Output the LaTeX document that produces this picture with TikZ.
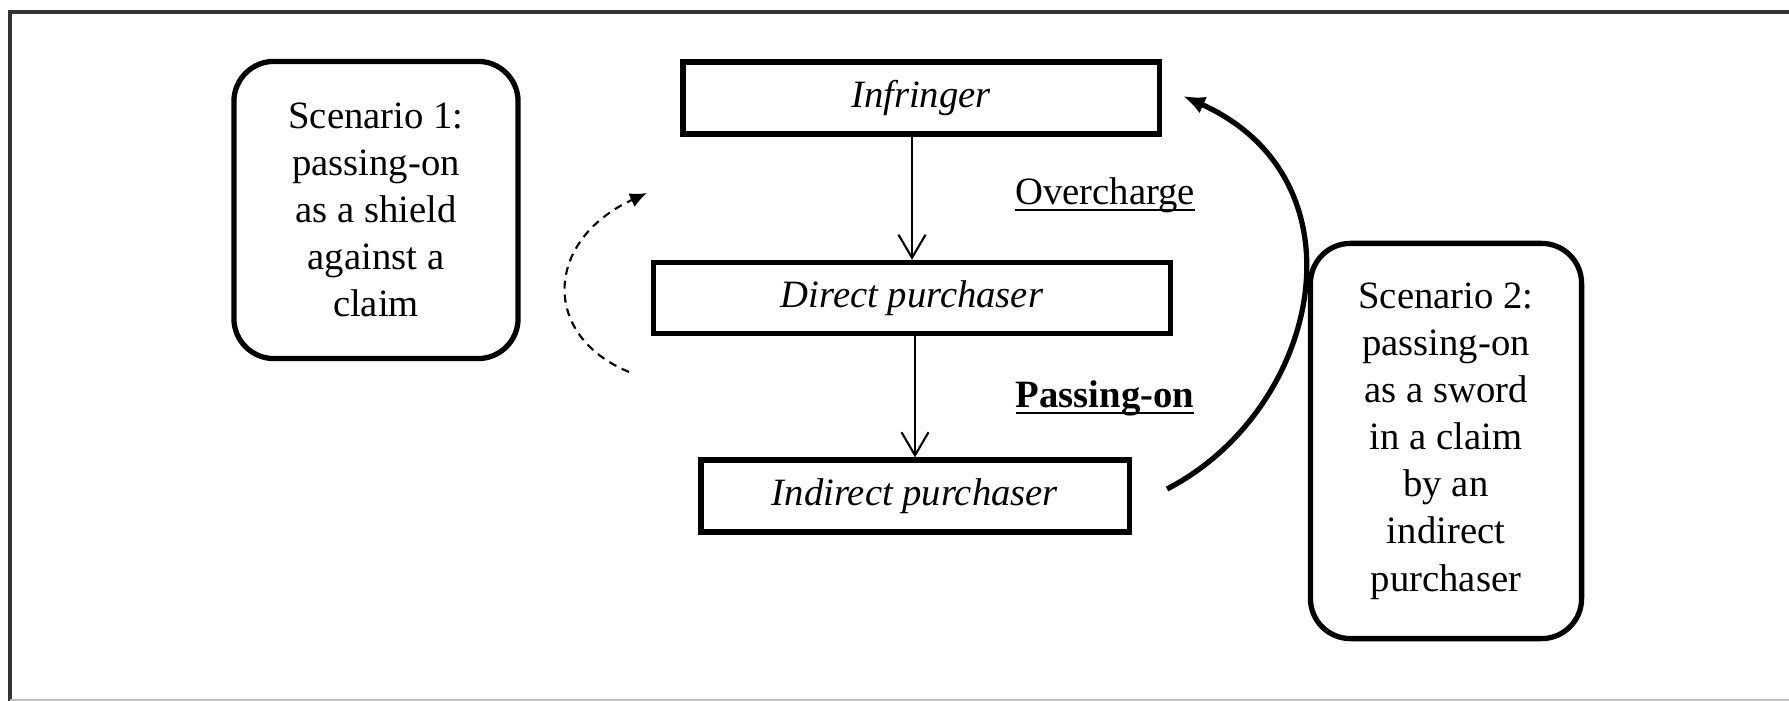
\documentclass[tikz,border=0pt]{standalone}
\usepackage{fontspec}
\setmainfont{Liberation Serif}
\usetikzlibrary{arrows.meta}

\begin{document}
\begin{tikzpicture}[x=0.01cm,y=-0.01cm,
	every node/.style={font=\fontsize{11pt}{13.4pt}\selectfont},
	party/.style={rectangle,draw,line width=1.5pt,minimum height=0.72cm},
	scenario/.style={rectangle,rounded corners=0.4cm,draw,line width=1.5pt,align=center},
	flow/.style={line width=0.6pt,-{Straight Barb[length=0.23cm,width=0.27cm]}}]
	
	\useasboundingbox (0,0) rectangle (1789,701);
	
	\draw[line width=1pt,black!80] (10,701) -- (10,12) -- (1789,12);
	
	\draw[line width=0.5pt,black!25] (10,700) -- (1789,700);
	
	\node(infringer) [party,minimum width=4.76cm] at (921,98) {\textit{Infringer}};
	
	\node(direct) [party,minimum width=5.17cm,minimum height=0.71cm] at (912,298) {\textit{Direct purchaser}};
	
	\node(indirect) [party,minimum width=4.28cm] at (915,496) {\textit{Indirect purchaser}};
	
	\node(scenarioone) [scenario,minimum width=2.84cm,minimum height=2.97cm] at (376,210) {Scenario 1:\\passing-on\\as a shield\\against a\\claim};
	
	\node(scenariotwo) [scenario,minimum width=2.71cm,minimum height=3.95cm] at (1446,441) {Scenario 2:\\passing-on\\as a sword\\in a claim\\by an\\indirect\\purchaser};
	
	\node(overcharge) [anchor=base] at (1105,205) {\underline{\smash{Overcharge}}};
	
	\node(passingon) [anchor=base] at (1105,408) {\underline{\smash{\textbf{Passing-on}}}};
	
	\draw[flow] (direct.north |- infringer.south) -- (direct.north);
	
	\draw[flow] (indirect.north |- direct.south) -- (indirect.north);
	
	\coordinate (shieldstart) at (629,372);
	
	\coordinate (shieldend) at (647,193);
	
	\draw[line width=0.6pt,dash pattern=on 0.08cm off 0.06cm,-{Latex[length=0.17cm,width=0.15cm]}]
	(shieldstart) .. controls (540,335) and (545,240) .. (shieldend);
	
	\coordinate (swordstart) at (1167,489);
	
	\coordinate (swordend) at (1183,96);
	
	\draw[line width=1.5pt,-{Latex[length=0.22cm,width=0.18cm]}]
	(swordstart) .. controls (1320,410) and (1370,180) .. (swordend);
	
\end{tikzpicture}
\end{document}
